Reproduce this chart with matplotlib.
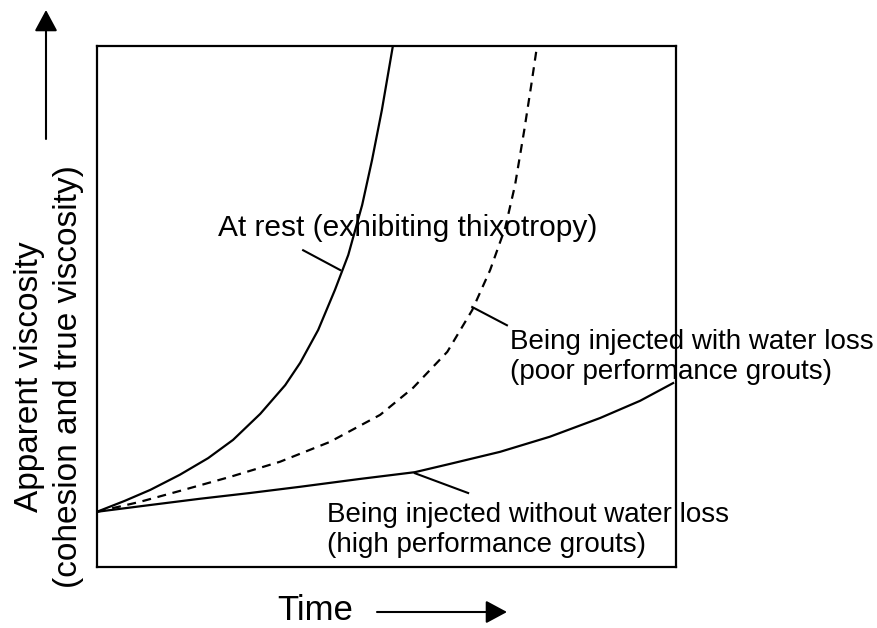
import matplotlib
matplotlib.use('Agg')
import matplotlib.pyplot as plt
from matplotlib.patches import FancyArrowPatch

plt.rcParams['font.family'] = ['Liberation Sans', 'DejaVu Sans']

# curves (time 0-100, viscosity 0-100)
rest_t = [0, 4.8, 9.2, 14.3, 19.2, 23.5, 28.2, 32.5, 35.1, 38.2, 41.1, 43.4, 45.8, 47.5, 49.2, 51.1]
rest_v = [10.6, 12.7, 14.8, 17.7, 20.9, 24.4, 29.4, 34.9, 39.2, 45.5, 53.2, 59.9, 69.5, 78.1, 87.7, 100]
loss_t = [0, 7.4, 14.3, 23.0, 31.6, 40.2, 48.9, 54.6, 60.5, 64.8, 67.9, 70.5, 72.2, 73.8, 75.0, 76.0]
loss_v = [10.6, 12.5, 14.6, 17.3, 20.2, 24.0, 29.2, 34.4, 41.3, 49.3, 57.0, 65.1, 73.3, 83.9, 92.5, 100]
noloss_t = [0, 9.2, 17.8, 26.4, 35.1, 45.4, 54.9, 61.0, 69.6, 78.2, 86.9, 93.8, 99.5]
noloss_v = [10.6, 11.9, 13.1, 14.2, 15.4, 16.9, 18.2, 19.8, 22.1, 25.0, 28.6, 31.9, 35.3]

labels = ['At rest (exhibiting thixotropy)',
          'Being injected with water loss\n(poor performance grouts)',
          'Being injected without water loss\n(high performance grouts)']

W, H = 877, 628
fig = plt.figure(figsize=(W / 100, H / 100), dpi=100)
ax = fig.add_axes([97 / W, (H - 567) / H, (676 - 97) / W, (567 - 46) / H])

ax.plot(rest_t, rest_v, color='black', lw=1.6, solid_joinstyle='round')
ax.plot(loss_t, loss_v, color='black', lw=1.6, linestyle=(0, (4, 3)))
ax.plot(noloss_t, noloss_v, color='black', lw=1.6, solid_joinstyle='round')

# leader lines
ax.plot([35.6, 42.0], [60.8, 57.0], color='black', lw=1.5)
ax.plot([64.8, 70.8], [49.9, 46.4], color='black', lw=1.5)
ax.plot([54.9, 64.1], [18.0, 14.2], color='black', lw=1.5)

ax.text(20.9, 65.1, labels[0], fontsize=21.5, ha='left', va='center')
ax.text(71.3, 40.3, labels[1], fontsize=20, ha='left', va='center',
        linespacing=1.2, clip_on=False)
ax.text(39.7, 7.1, labels[2], fontsize=20, ha='left', va='center',
        linespacing=1.2)

ax.set_xlim(0, 100)
ax.set_ylim(0, 100)
ax.set_xticks([])
ax.set_yticks([])
for s in ax.spines.values():
    s.set_linewidth(1.6)

fig.text(49 / W, 1 - 377 / H,
         'Apparent viscosity\n(cohesion and true viscosity)',
         rotation=90, fontsize=24, ha='center', va='center', linespacing=1.35)
fig.text(315 / W, 1 - 610 / H, 'Time', fontsize=25, ha='center', va='center')

fig.add_artist(FancyArrowPatch((46 / W, 1 - 139 / H), (46 / W, 1 - 10 / H),
                               transform=fig.transFigure, color='black', lw=1.5,
                               arrowstyle='-|>,head_length=0.65,head_width=0.35',
                               mutation_scale=20, shrinkA=0, shrinkB=0))
fig.add_artist(FancyArrowPatch((377 / W, 1 - 612 / H), (507 / W, 1 - 612 / H),
                               transform=fig.transFigure, color='black', lw=1.5,
                               arrowstyle='-|>,head_length=0.65,head_width=0.35',
                               mutation_scale=20, shrinkA=0, shrinkB=0))

fig.savefig('out.png', dpi=100)
